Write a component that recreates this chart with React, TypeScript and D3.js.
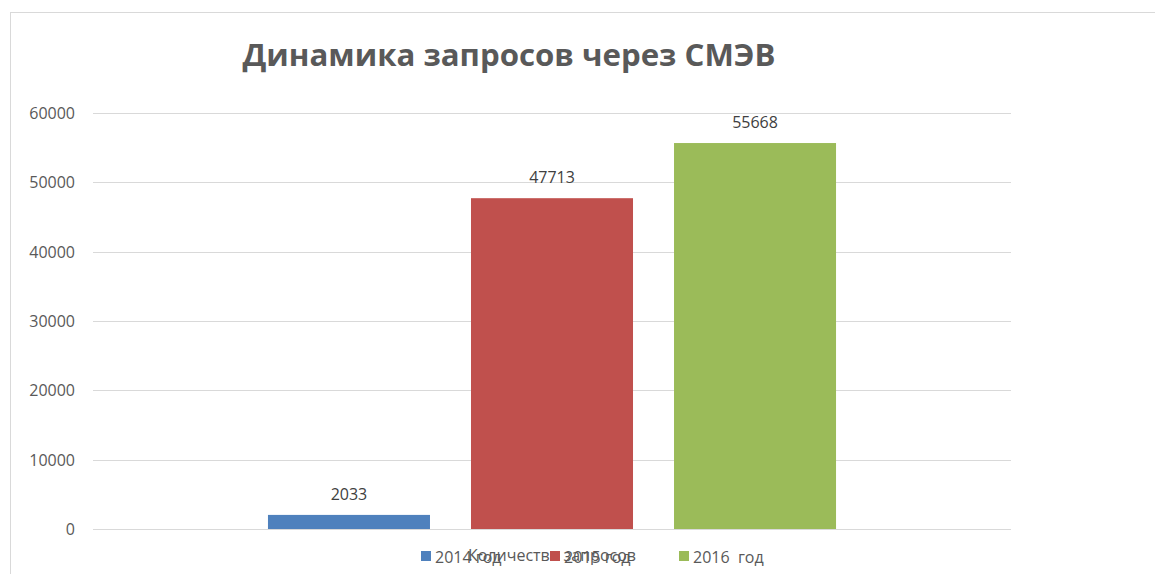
import React from "react";
import * as d3 from "d3";

const title = "Динамика запросов через СМЭВ";
const category = "Количество запросов";
const seriesNames = ["2014 год", "2015 год", "2016  год"];
const values = [2033, 47713, 55668];
const colors = ["#4f81bd", "#c0504d", "#9bbb59"];
const yTicks = [0, 10000, 20000, 30000, 40000, 50000, 60000];

export default function App() {
  const W = 1155, H = 574;
  const left = 93, right = 1011, top = 113, bottom = 529;
  const y = d3.scaleLinear().domain([0, 60000]).range([bottom, top]);
  const outer = d3.scaleBand().domain([category]).range([left, right]).paddingInner(0).paddingOuter(0.308);
  const inner = d3.scaleBand().domain(seriesNames).range([0, outer.bandwidth()]).paddingInner(0.202).paddingOuter(0);
  const font = "'Open Sans', 'Noto Sans', sans-serif";
  const legendX = [421, 550, 679];
  return (
    <svg width={W} height={H} style={{ position: "absolute", left: 0, top: 0, background: "#fff" }}>
      <rect x={10.5} y={12.5} width={W} height={H} fill="none" stroke="#d9d9d9" strokeWidth={1} />
      <text x={509} y={66} textAnchor="middle" fontFamily={font} fontWeight="bold" fontSize={31} fill="#595959" textLength={533} lengthAdjust="spacingAndGlyphs">{title}</text>
      {yTicks.map((t) => (
        <g key={t}>
          <line x1={left} x2={right} y1={Math.round(y(t)) + 0.5} y2={Math.round(y(t)) + 0.5} stroke="#d9d9d9" />
          <text x={75} y={y(t) + 6} textAnchor="end" fontFamily={font} fontSize={16} fill="#595959">{t}</text>
        </g>
      ))}
      {seriesNames.map((s, i) => {
        const x0 = (outer(category) as number) + (inner(s) as number);
        return (
          <g key={s}>
            <rect x={x0} y={y(values[i])} width={inner.bandwidth()} height={y(0) - y(values[i])} fill={colors[i]} />
            <text x={x0 + inner.bandwidth() / 2} y={y(values[i]) - 15} textAnchor="middle" fontFamily={font} fontSize={16} fill="#404040">{values[i]}</text>
          </g>
        );
      })}
      <text x={(left + right) / 2} y={561} textAnchor="middle" fontFamily={font} fontSize={16} fill="#595959">{category}</text>
      {seriesNames.map((s, i) => (
        <g key={"lg" + s}>
          <rect x={legendX[i]} y={551} width={10} height={10} fill={colors[i]} />
          <text x={legendX[i] + 14} y={563} fontFamily={font} fontSize={16} fill="#595959" style={{ whiteSpace: "pre" }}>{s}</text>
        </g>
      ))}
    </svg>
  );
}
